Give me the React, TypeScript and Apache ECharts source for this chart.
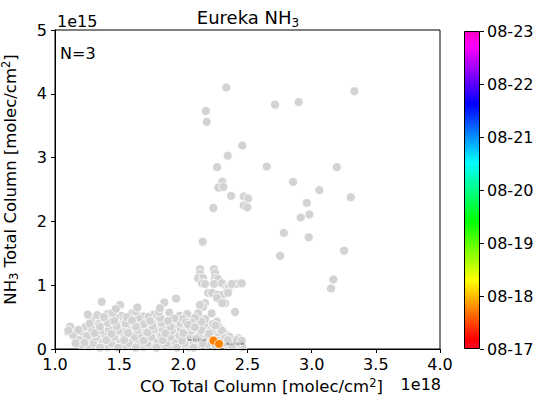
import React, { useEffect, useRef } from "react";
import * as echarts from "echarts";

// CO columns are in units of 1e18 molec/cm², NH3 columns in 1e15 molec/cm².
const FONT = "DejaVu Sans";

// Sparse high-NH3 observations
const highCO = [
  2.335, 3.333, 2.175, 2.182, 2.715, 2.899, 2.46, 2.346, 2.263, 2.65, 3.196, 2.304, 2.273, 2.312,
  2.372, 2.471, 2.504, 2.471, 2.499, 2.234, 2.855, 3.06, 3.305, 2.962, 2.982, 2.915, 2.783, 2.977,
  3.253, 2.151, 2.754, 3.169, 3.151,
];
const highNH3 = [
  4.1, 4.04, 3.73, 3.56, 3.83, 3.87, 3.19, 3.03, 2.85, 2.86, 2.85, 2.62, 2.53, 2.54, 2.4, 2.39, 2.36,
  2.25, 2.22, 2.21, 2.62, 2.49, 2.38, 2.29, 2.11, 2.06, 1.82, 1.75, 1.54, 1.68, 1.46, 1.09, 0.95,
];

// Moderate NH3 column near CO ≈ 2.1–2.45
const midCO = [
  2.13, 2.13, 2.115, 2.154, 2.146, 2.169, 2.239, 2.247, 2.247, 2.27, 2.239, 2.302, 2.341, 2.356,
  2.442, 2.411, 2.193, 2.224, 2.27, 2.309, 2.263, 2.348, 2.325, 2.302, 2.169, 2.154, 2.13, 2.403,
  2.115, 2.091, 2.068, 2.037, 2.091, 2.325, 2.348, 2.426, 2.455, 2.377, 2.416, 2.455, 1.943, 1.852,
  1.818, 1.641, 1.507, 1.475, 1.364, 1.255, 1.117, 1.182, 1.104,
];
const midNH3 = [
  1.25, 1.18, 1.11, 1.11, 1.03, 1.02, 1.25, 1.19, 1.11, 1.1, 1.02, 1.03, 0.97, 0.97, 1.03, 1.02,
  0.88, 0.88, 0.85, 0.85, 0.8, 0.88, 0.72, 0.72, 0.72, 0.66, 0.69, 0.58, 0.56, 0.49, 0.41, 0.38,
  0.34, 0.17, 0.14, 0.17, 1.03, 1.02, 0.14, 0.13, 0.79, 0.73, 0.64, 0.65, 0.69, 0.63, 0.74, 0.54,
  0.35, 0.3, 0.29,
];

// Dense background band of low NH3 columns
const bandPoints: [number, number][] = [
  [1.26, 0.04], [1.33, 0.06], [1.41, 0.03], [1.47, 0.07], [1.55, 0.04], [1.62, 0.06], [1.69, 0.03],
  [1.76, 0.05], [1.83, 0.07], [1.9, 0.04], [1.97, 0.06], [2.04, 0.03], [2.11, 0.05], [2.18, 0.07],
  [2.35, 0.04], [2.41, 0.06], [2.46, 0.03],
  [1.22, 0.15], [1.29, 0.13], [1.36, 0.17], [1.44, 0.14], [1.5, 0.16], [1.58, 0.12], [1.65, 0.17],
  [1.71, 0.15], [1.79, 0.13], [1.86, 0.16], [1.93, 0.14], [2.0, 0.17], [2.07, 0.12], [2.14, 0.15],
  [2.21, 0.18], [2.31, 0.16], [2.38, 0.12],
  [1.2, 0.25], [1.27, 0.23], [1.34, 0.27], [1.4, 0.24], [1.47, 0.26], [1.53, 0.22], [1.61, 0.28],
  [1.68, 0.25], [1.74, 0.23], [1.81, 0.27], [1.88, 0.24], [1.95, 0.26], [2.02, 0.22], [2.09, 0.27],
  [2.16, 0.24], [2.24, 0.26], [2.33, 0.23],
  [1.24, 0.35], [1.31, 0.33], [1.38, 0.37], [1.45, 0.34], [1.52, 0.36], [1.59, 0.32], [1.66, 0.37],
  [1.73, 0.35], [1.8, 0.33], [1.87, 0.36], [1.94, 0.34], [2.01, 0.37], [2.12, 0.33], [2.19, 0.36],
  [2.28, 0.34],
  [1.28, 0.45], [1.35, 0.43], [1.43, 0.47], [1.49, 0.44], [1.57, 0.46], [1.64, 0.42], [1.7, 0.47],
  [1.78, 0.45], [1.85, 0.43], [1.92, 0.46], [2.05, 0.44], [2.17, 0.47], [2.26, 0.43],
  [1.33, 0.53], [1.41, 0.55], [1.52, 0.52], [1.6, 0.56], [1.69, 0.51], [1.77, 0.54], [1.89, 0.57],
  [1.97, 0.52], [2.03, 0.55], [2.22, 0.56],
  [1.3, 0.09], [1.37, 0.1], [1.44, 0.09], [1.51, 0.11], [1.58, 0.09], [1.65, 0.1], [1.72, 0.09],
  [1.8, 0.11], [1.87, 0.09], [1.94, 0.1], [2.01, 0.09], [2.08, 0.11], [2.15, 0.09], [2.25, 0.04],
  [2.32, 0.1], [2.43, 0.1],
  [1.25, 0.2], [1.32, 0.19], [1.39, 0.21], [1.46, 0.19], [1.54, 0.2], [1.62, 0.19], [1.68, 0.21],
  [1.75, 0.19], [1.83, 0.2], [1.9, 0.19], [1.97, 0.21], [2.05, 0.19], [2.12, 0.2], [2.19, 0.21],
  [2.28, 0.2], [2.36, 0.19],
  [1.29, 0.3], [1.36, 0.29], [1.42, 0.31], [1.5, 0.29], [1.56, 0.31], [1.64, 0.3], [1.71, 0.29],
  [1.77, 0.31], [1.84, 0.3], [1.91, 0.29], [1.98, 0.31], [2.06, 0.29], [2.14, 0.3], [2.22, 0.31],
  [2.3, 0.29],
  [1.27, 0.4], [1.34, 0.39], [1.41, 0.41], [1.48, 0.39], [1.55, 0.4], [1.62, 0.41], [1.69, 0.39],
  [1.76, 0.4], [1.83, 0.41], [1.9, 0.39], [1.98, 0.4], [2.08, 0.41], [2.23, 0.39],
  [1.38, 0.5], [1.47, 0.49], [1.56, 0.5], [1.65, 0.49], [1.73, 0.5], [1.82, 0.49], [1.93, 0.48],
  [2.0, 0.47],
  [1.11, 0.33], [1.17, 0.28], [1.1, 0.27], [1.19, 0.14], [1.14, 0.22], [1.21, 0.06], [1.16, 0.09],
  [1.23, 0.1], [1.35, 0.02], [1.49, 0.02], [1.63, 0.02], [1.79, 0.02], [1.95, 0.02], [2.08, 0.02],
  [1.4, 0.14], [1.54, 0.14], [1.69, 0.13], [1.84, 0.14], [1.99, 0.13], [2.1, 0.16], [2.27, 0.13],
  [1.31, 0.25], [1.44, 0.24], [1.57, 0.25], [1.72, 0.26], [1.86, 0.25], [2.0, 0.25], [2.2, 0.24],
  [1.35, 0.35], [1.48, 0.36], [1.63, 0.35], [1.76, 0.36], [1.9, 0.35], [2.05, 0.35], [2.25, 0.37],
  [1.46, 0.44], [1.6, 0.45], [1.74, 0.44], [1.88, 0.44], [2.02, 0.42], [2.14, 0.43],
  [1.81, 0.58], [1.63, 0.59], [1.45, 0.57], [2.38, 0.05], [2.44, 0.13],
];

// Eureka observations, coloured by time (days after 08-17)
const eurekaCO = [2.231, 2.236, 2.278];
const eurekaNH3 = [0.14, 0.13, 0.08];
const eurekaDay = [0.72, 0.73, 0.75];
const eurekaTags = ["08-17 17:16", "08-17 17:31", "08-17 18:00"];

// Colour bar ticks
const dateLabels = ["08-17", "08-18", "08-19", "08-20", "08-21", "08-22", "08-23"];
const DAY_SPAN = 6;

// gist_rainbow colour stops
const cmapStops: [number, [number, number, number]][] = [
  [0.0, [255, 0, 41]],
  [0.03, [255, 0, 0]],
  [0.215, [255, 255, 0]],
  [0.4, [0, 255, 0]],
  [0.586, [0, 255, 255]],
  [0.77, [0, 0, 255]],
  [0.954, [255, 0, 255]],
  [1.0, [255, 0, 191]],
];

const rgb = (c: number[]) => `rgb(${c.map((v) => Math.round(v)).join(",")})`;

function cmap(t: number): string {
  const v = Math.min(1, Math.max(0, t));
  for (let i = 1; i < cmapStops.length; i++) {
    const [o1, c1] = cmapStops[i];
    const [o0, c0] = cmapStops[i - 1];
    if (v <= o1) {
      const f = (v - o0) / (o1 - o0);
      return rgb(c0.map((a, k) => a + (c1[k] - a) * f));
    }
  }
  return rgb(cmapStops[cmapStops.length - 1][1]);
}

const richText = {
  base: { fontSize: 16.5, fontFamily: FONT, color: "#000" },
  sub: { fontSize: 11.5, fontFamily: FONT, color: "#000", padding: [8, 0, 0, 0] },
  sup: { fontSize: 11.5, fontFamily: FONT, color: "#000", padding: [0, 0, 8, 0] },
};

export default function App() {
  const ref = useRef<HTMLDivElement>(null);

  useEffect(() => {
    if (!ref.current) return;
    const chart = echarts.init(ref.current, undefined, { renderer: "svg" });

    const grayData = [
      ...bandPoints,
      ...midCO.map((x, i) => [x, midNH3[i]]),
      ...highCO.map((x, i) => [x, highNH3[i]]),
    ];
    const eurekaData = eurekaCO.map((x, i) => ({
      value: [x, eurekaNH3[i]],
      itemStyle: { color: cmap(eurekaDay[i] / DAY_SPAN) },
      label: {
        show: i !== 1,
        position: i === 0 ? "left" : "right",
        formatter: eurekaTags[i],
      },
    }));

    const axisCommon = {
      axisLine: { lineStyle: { color: "#000", width: 1 } },
      axisTick: { show: true, inside: false, length: 4, lineStyle: { color: "#000" } },
      splitLine: { show: false },
      axisLabel: { color: "#000", fontSize: 16, fontFamily: FONT },
    };

    chart.setOption({
      animation: false,
      textStyle: { fontFamily: FONT },
      grid: [
        {
          left: 55,
          right: 100,
          top: 30,
          bottom: 47,
          show: true,
          borderColor: "#000",
          borderWidth: 1,
          containLabel: false,
          outerBoundsMode: "none",
        },
        { left: 464, width: 16, top: 31, height: 318, containLabel: false, outerBoundsMode: "none" },
      ],
      xAxis: [
        {
          gridIndex: 0,
          type: "value",
          min: 1,
          max: 4,
          interval: 0.5,
          z: 3,
          ...axisCommon,
          axisLabel: { ...axisCommon.axisLabel, margin: 7, formatter: (v: number) => v.toFixed(1) },
          name: "{base|CO Total Column [molec/cm}{sup|2}{base|]}",
          nameLocation: "middle",
          nameGap: 26,
          nameTextStyle: { rich: richText, padding: [0, 0, 0, 28] },
        },
        { gridIndex: 1, type: "category", data: ["t"], show: false },
      ],
      yAxis: [
        {
          gridIndex: 0,
          type: "value",
          min: 0,
          max: 5,
          interval: 1,
          z: 3,
          ...axisCommon,
          axisLabel: { ...axisCommon.axisLabel, margin: 8 },
          name: "{base|NH}{sub|3}{base| Total Column [molec/cm}{sup|2}{base|]}",
          nameLocation: "middle",
          nameRotate: 90,
          nameGap: 35,
          nameTextStyle: { rich: richText, padding: [0, 0, 0, 20] },
        },
        {
          gridIndex: 1,
          type: "value",
          min: 0,
          max: DAY_SPAN,
          interval: 1,
          position: "right",
          ...axisCommon,
          axisLine: { show: false },
          axisLabel: {
            ...axisCommon.axisLabel,
            margin: 7,
            formatter: (v: number) => dateLabels[Math.round(v)] ?? "",
          },
        },
      ],
      series: [
        {
          type: "scatter",
          xAxisIndex: 0,
          yAxisIndex: 0,
          data: grayData,
          symbolSize: 9,
          itemStyle: { color: "#d3d3d3", borderColor: "#fff", borderWidth: 0.8, opacity: 1 },
          silent: true,
        },
        {
          type: "scatter",
          xAxisIndex: 0,
          yAxisIndex: 0,
          data: eurekaData,
          symbolSize: 9,
          itemStyle: { borderColor: "#fff", borderWidth: 0.8, opacity: 1 },
          label: { fontSize: 3, color: "#333", fontFamily: FONT, distance: 2 },
          z: 4,
          silent: true,
        },
        {
          type: "bar",
          xAxisIndex: 1,
          yAxisIndex: 1,
          data: [DAY_SPAN],
          barWidth: "100%",
          silent: true,
          itemStyle: {
            color: new echarts.graphic.LinearGradient(
              0,
              1,
              0,
              0,
              cmapStops.map(([offset, c]) => ({ offset, color: rgb(c) }))
            ),
            borderColor: "#000",
            borderWidth: 1,
          },
        },
      ],
      graphic: [
        {
          type: "text",
          x: 248,
          y: 17,
          style: {
            text: "{t|Eureka NH}{s|3}",
            align: "center",
            verticalAlign: "middle",
            rich: {
              t: { fontSize: 18, fontFamily: FONT, color: "#000" },
              s: { fontSize: 12, fontFamily: FONT, color: "#000", padding: [11, 0, 0, 0] },
            },
          },
        },
        {
          type: "text",
          x: 57,
          y: 21,
          style: { text: "1e15", fontSize: 16, fontFamily: FONT, fill: "#000", verticalAlign: "middle" },
        },
        {
          type: "text",
          x: 441,
          y: 384,
          style: {
            text: "1e18",
            fontSize: 16,
            fontFamily: FONT,
            fill: "#000",
            align: "right",
            verticalAlign: "middle",
          },
        },
        {
          type: "text",
          x: 60,
          y: 53,
          style: { text: "N=3", fontSize: 16, fontFamily: FONT, fill: "#000", verticalAlign: "middle" },
        },
      ],
    });

    return () => chart.dispose();
  }, []);

  return (
    <div
      ref={ref}
      style={{ position: "fixed", left: 0, top: 0, width: 540, height: 396, background: "#fff" }}
    />
  );
}
